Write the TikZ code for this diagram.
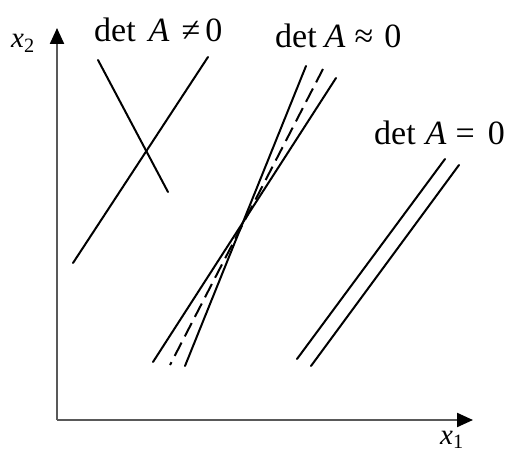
\documentclass[tikz,border=0pt]{standalone}
\usepackage{fontspec}
\setmainfont{Liberation Serif}
\usetikzlibrary{arrows.meta}
\begin{document}
\begin{tikzpicture}[x=1pt,y=-1pt,
  axis/.style={line width=2.2pt,draw=black!65,-{Triangle[length=16pt,width=14pt,black]}},
  ln/.style={line width=2pt,line cap=round},
  dln/.style={line width=2pt,dash pattern=on 15pt off 7pt},
  lbl/.style={anchor=base west,inner sep=0pt,font=\fontsize{34}{38}\selectfont},
  axl/.style={anchor=base west,inner sep=0pt,font=\fontsize{29}{32}\selectfont}]
\useasboundingbox[fill=white] (0,0) rectangle (515,452);
% axes
\coordinate (O) at (57,420);
\coordinate (ytip) at (57,28);
\coordinate (xtip) at (473,420);
\draw[axis] (O) -- (ytip);
\draw[axis] (O) -- (xtip);
\node[axl] (x2) at (11,48) {\textit{x}\textsubscript{2}};
\node[axl] (x1) at (440,444) {\textit{x}\textsubscript{1}};
% labels
\node[lbl] (L1) at (94,42) {det\hspace{13pt}\textit{A}\hspace{12pt}≠\hspace{5pt}0};
\node[lbl] (L2) at (275,48) {det\hspace{8pt}\textit{A}\hspace{9pt}≈\hspace{11pt}0};
\node[lbl] (L3) at (374,145) {det\hspace{10pt}\textit{A}\hspace{9pt}=\hspace{13pt}0};
% det A != 0
\coordinate (a1) at (98,60);  \coordinate (a2) at (168,192);
\coordinate (b1) at (208,57); \coordinate (b2) at (73,263);
\draw[ln] (a1) -- (a2);
\draw[ln] (b1) -- (b2);
% det A ~ 0
\coordinate (c1) at (306,66); \coordinate (c2) at (185,366);
\coordinate (d1) at (323,69); \coordinate (d2) at (170,365);
\coordinate (e1) at (336,78); \coordinate (e2) at (153,362);
\draw[ln] (c1) -- (c2);
\draw[dln] (d1) -- (d2);
\draw[ln] (e1) -- (e2);
% det A = 0
\coordinate (f1) at (445,159); \coordinate (f2) at (297,359);
\coordinate (g1) at (459,165); \coordinate (g2) at (311,366);
\draw[ln] (f1) -- (f2);
\draw[ln] (g1) -- (g2);
\end{tikzpicture}
\end{document}
